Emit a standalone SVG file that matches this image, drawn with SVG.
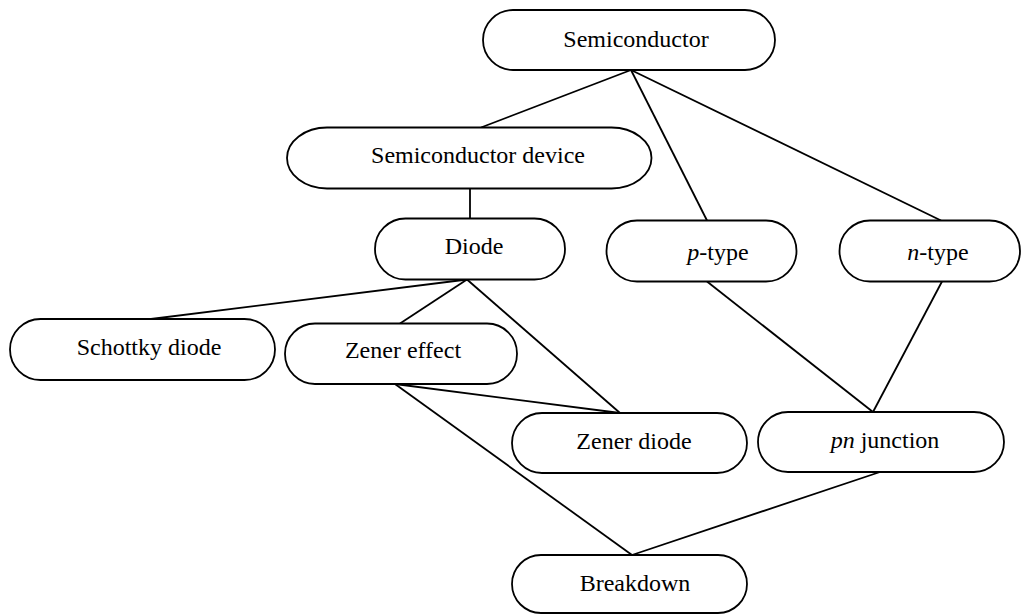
<svg xmlns="http://www.w3.org/2000/svg" width="1021" height="614" viewBox="0 0 1021 614">
<style>
.n{fill:#fff;stroke:#000;stroke-width:1.8}
.t{font-family:"Liberation Serif","Times New Roman",serif;font-size:24px;fill:#000;text-anchor:middle}
.c line{stroke:#000;stroke-width:1.8}
</style>
<rect width="1021" height="614" fill="#fff"/>
<g id="connectors" class="c">
<line x1="631" y1="70" x2="481" y2="127.5"/>
<line x1="631" y1="70" x2="707" y2="220.5"/>
<line x1="631" y1="70" x2="941" y2="220.5"/>
<line x1="470" y1="188.5" x2="470" y2="218.5"/>
<line x1="467" y1="279.5" x2="151" y2="319"/>
<line x1="467" y1="279.5" x2="400" y2="323.5"/>
<line x1="467" y1="279.5" x2="620" y2="413"/>
<line x1="707" y1="281.5" x2="873" y2="412"/>
<line x1="942" y1="281.5" x2="873" y2="412"/>
<line x1="395" y1="384" x2="620" y2="413"/>
<line x1="395" y1="384" x2="632" y2="555"/>
<line x1="880" y1="472" x2="632" y2="555"/>
</g>
<g id="semiconductor"><rect class="n" x="483" y="10" width="292" height="60" rx="30" ry="30"/><text class="t" x="636" y="47">Semiconductor</text></g>
<g id="semiconductor-device"><rect class="n" x="287" y="127.5" width="364.5" height="61" rx="40" ry="30.5"/><text class="t" x="478" y="163">Semiconductor device</text></g>
<g id="diode"><rect class="n" x="375" y="218.5" width="190" height="61" rx="30.5" ry="30.5"/><text class="t" x="474" y="254">Diode</text></g>
<g id="p-type"><rect class="n" x="606.5" y="220.5" width="190" height="61" rx="30.5" ry="30.5"/><text class="t" x="718" y="260"><tspan font-style="italic">p</tspan>-type</text></g>
<g id="n-type"><rect class="n" x="839.5" y="220.5" width="180.5" height="61" rx="30.5" ry="30.5"/><text class="t" x="938" y="260"><tspan font-style="italic">n</tspan>-type</text></g>
<g id="schottky-diode"><rect class="n" x="10" y="319" width="265" height="61" rx="30.5" ry="30.5"/><text class="t" x="149" y="355">Schottky diode</text></g>
<g id="zener-effect"><rect class="n" x="285" y="323.5" width="232" height="60.5" rx="30" ry="30"/><text class="t" x="403" y="358">Zener effect</text></g>
<g id="zener-diode"><rect class="n" x="512" y="413" width="235" height="60" rx="30" ry="30"/><text class="t" x="634" y="449">Zener diode</text></g>
<g id="pn-junction"><rect class="n" x="758" y="412" width="246" height="60" rx="30" ry="30"/><text class="t" x="885" y="448"><tspan font-style="italic">pn</tspan> junction</text></g>
<g id="breakdown"><rect class="n" x="512" y="555" width="235" height="58" rx="29" ry="29"/><text class="t" x="635" y="591">Breakdown</text></g>
</svg>
